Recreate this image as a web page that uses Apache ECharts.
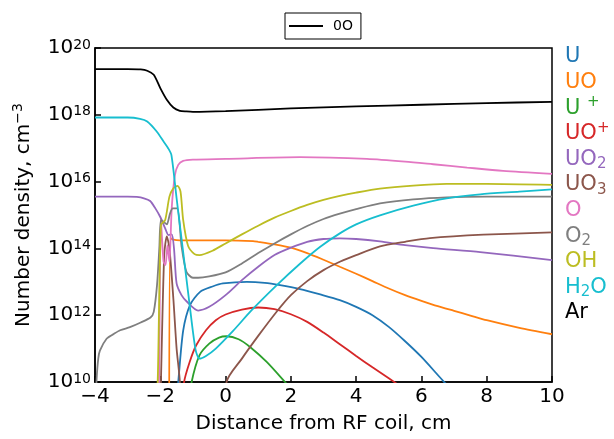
<!DOCTYPE html>
<html>
<head>
<meta charset="utf-8">
<script src="https://cdn.jsdelivr.net/npm/echarts@6/dist/echarts.min.js"></script>
<style>html,body{margin:0;padding:0;background:#fff}#c{width:614px;height:439px}</style>
</head>
<body>
<div id="c"></div>
<script>
// ---- data (x in cm, number density in cm^-3) ----
const xTicks = [-4, -2, 0, 2, 4, 6, 8, 10];
const yTickExponents = [10, 12, 14, 16, 18, 20];

const arX = [-4, -3, -2.6, -2.4, -2.2, -2.0, -1.8, -1.6, -1.4, -1.2, -1.0, 0, 2, 4, 6, 8, 10];
const arY = [2.34e19, 2.34e19, 2.29e19, 2.09e19, 1.58e19, 6.3e18, 2.82e18, 1.66e18, 1.32e18, 1.26e18, 1.23e18, 1.29e18, 1.55e18, 1.78e18, 2.0e18, 2.24e18, 2.45e18];

const h2oX = [-4, -3, -2.62, -2.4, -2.11, -1.9, -1.76, -1.66, -1.5, -1.3, -1.1, -0.92, -0.8, -0.6, -0.3, 0.23, 0.8, 1.57, 2.28, 2.9, 3.5, 4.0, 4.73, 5.75, 6.77, 7.8, 9, 10];
const h2oY = [8.3e17, 8.3e17, 7.6e17, 6.3e17, 3.16e17, 1.58e17, 1.0e17, 6.3e16, 3.16e15, 7.94e13, 2.0e12, 9.33e10, 5.01e10, 6.03e10, 1.0e11, 3.39e11, 1.41e12, 7.94e12, 3.47e13, 1.12e14, 2.82e14, 5.25e14, 9.77e14, 1.91e15, 3.16e15, 4.17e15, 5.01e15, 5.89e15];

const ohX = [-2.2, -2.08, -1.98, -1.85, -1.72, -1.6, -1.47, -1.38, -1.3, -1.15, -0.95, -0.8, -0.4, 0, 0.5, 1.0, 1.5, 2.0, 2.5, 3.0, 3.5, 4.0, 4.73, 5.75, 6.77, 8, 10];
const ohY = [1e8, 1e10, 5.01e14, 7.08e14, 3.55e15, 6.31e15, 7.41e15, 5.01e15, 7.24e14, 1.2e14, 6.76e13, 6.31e13, 8.51e13, 1.41e14, 2.63e14, 4.79e14, 8.32e14, 1.32e15, 2.0e15, 2.82e15, 3.72e15, 4.68e15, 6.17e15, 7.59e15, 8.51e15, 8.51e15, 7.94e15];

const o2X = [-4.0, -3.95, -3.9, -3.85, -3.64, -3.44, -3.23, -2.93, -2.6, -2.3, -2.2, -2.1, -2.03, -1.98, -1.88, -1.8, -1.7, -1.62, -1.48, -1.35, -1.2, -1.0, -0.84, -0.5, 0, 0.5, 1.0, 1.5, 2.0, 2.5, 3.0, 3.5, 4.0, 4.73, 5.75, 6.77, 8, 10];
const o2Y = [1e9, 1.26e10, 5.01e10, 8.71e10, 2.0e11, 2.69e11, 3.55e11, 4.37e11, 6.03e11, 8.51e11, 1.26e12, 7.94e12, 1.0e14, 7.08e14, 6.03e14, 5.25e14, 1.12e15, 1.58e15, 1.58e15, 1.2e14, 2.0e13, 1.32e13, 1.32e13, 1.45e13, 1.91e13, 3.55e13, 7.24e13, 1.41e14, 2.63e14, 4.68e14, 7.59e14, 1.1e15, 1.51e15, 2.24e15, 2.95e15, 3.39e15, 3.55e15, 3.55e15];

const oX = [-2.1, -2.04, -1.98, -1.9, -1.84, -1.78, -1.72, -1.65, -1.55, -1.45, -1.3, -1.0, 0, 2.28, 4.33, 5.5, 6.36, 7.4, 8.5, 10];
const oY = [1e8, 1e10, 7.08e14, 3.98e13, 3.16e13, 1.26e14, 3.98e13, 1.58e15, 1.58e16, 3.16e16, 4.17e16, 4.57e16, 4.79e16, 5.37e16, 4.79e16, 3.98e16, 3.31e16, 2.63e16, 2.09e16, 1.7e16];

const uo2X = [-4, -3, -2.72, -2.5, -2.31, -2.15, -2.0, -1.85, -1.75, -1.65, -1.58, -1.5, -1.35, -1.19, -0.84, -0.5, 0, 0.5, 1.0, 1.5, 2.0, 2.5, 3.0, 3.5, 4.0, 4.73, 5.5, 6.36, 7.8, 10];
const uo2Y = [3.55e15, 3.55e15, 3.47e15, 3.16e15, 2.63e15, 1.58e15, 8.71e14, 3.98e14, 2.51e14, 2.63e14, 1.0e14, 8.91e12, 3.98e12, 2.57e12, 1.38e12, 1.78e12, 3.98e12, 1.12e13, 2.82e13, 6.31e13, 1.05e14, 1.58e14, 1.91e14, 2.0e14, 1.91e14, 1.62e14, 1.26e14, 1.02e14, 7.76e13, 4.47e13];

const uoX = [-1.73, -1.69, -1.6, -1.4, 0, 0.84, 1.0, 1.5, 2.0, 2.5, 3.0, 3.5, 4.0, 4.5, 5.0, 5.5, 6.0, 6.5, 7.0, 7.5, 8.0, 9.0, 10];
const uoY = [1e8, 2.04e14, 1.82e14, 1.74e14, 1.74e14, 1.66e14, 1.58e14, 1.32e14, 1.05e14, 7.24e13, 4.57e13, 2.82e13, 1.74e13, 1.05e13, 6.31e12, 3.98e12, 2.69e12, 1.86e12, 1.35e12, 9.77e11, 7.08e11, 4.17e11, 2.69e11];

const uX = [-1.5, -1.45, -1.3, -1.09, -0.78, -0.4, -0.08, 0.65, 1.2, 1.67, 2.28, 2.9, 3.5, 4.0, 4.5, 5.0, 5.5, 6.0, 6.67, 7.0];
const uY = [3.16e9, 1e10, 3.39e11, 2.0e12, 5.01e12, 7.24e12, 8.91e12, 1.0e13, 9.33e12, 7.94e12, 6.03e12, 4.17e12, 2.82e12, 1.78e12, 1.0e12, 4.47e11, 1.66e11, 5.62e10, 1.07e10, 5.01e9];

const uopX = [-1.32, -1.27, -1.1, -0.9, -0.6, -0.3, 0, 0.5, 1.0, 1.5, 2.0, 2.5, 3.0, 3.5, 4.0, 4.5, 5.0, 5.5];
const uopY = [1e9, 1e10, 3.98e10, 1.26e11, 3.55e11, 7.08e11, 1.05e12, 1.48e12, 1.7e12, 1.51e12, 1.07e12, 6.31e11, 3.02e11, 1.35e11, 6.03e10, 2.75e10, 1.29e10, 6.03e9];

const upX = [-1.08, -1.04, -0.8, -0.5, -0.2, 0.03, 0.4, 0.75, 1.26, 1.82, 2.0];
const upY = [3.16e9, 1e10, 6.31e10, 1.41e11, 2.14e11, 2.34e11, 1.91e11, 1.12e11, 3.98e10, 1e10, 6.31e9];

const uo3X = [-2.02, -1.98, -1.88, -1.8, -1.72, -1.6, -1.5, -1.4, -1.35, -0.05, 0.03, 0.5, 1.0, 1.57, 2.0, 2.5, 3.0, 3.5, 4.0, 4.73, 5.5, 6.26, 7.9, 10];
const uo3Y = [1e8, 1e10, 6.31e13, 2.29e14, 1e14, 3.16e12, 1e11, 1e10, 1e8, 1e8, 1e10, 5.01e10, 2.4e11, 1.29e12, 3.98e12, 1.05e13, 2.24e13, 3.98e13, 6.31e13, 1.15e14, 1.58e14, 2.04e14, 2.57e14, 3.02e14];

const speciesNames = ['U', 'UO', 'U+', 'UO+', 'UO2', 'UO3', 'O', 'O2', 'OH', 'H2O', 'Ar'];
const speciesLabels = ['U', 'UO', 'U {sp|+}', 'UO{sp|+}', 'UO{sb|2}', 'UO{sb|3}', 'O', 'O{sb|2}', 'OH', 'H{sb|2}O', 'Ar'];
const legendName = '0O';

// ---- build ----
const colors = {U:'#1f77b4', UO:'#ff7f0e', 'U+':'#2ca02c', 'UO+':'#d62728', UO2:'#9467bd', UO3:'#8c564b', O:'#e377c2', O2:'#7f7f7f', OH:'#bcbd22', H2O:'#17becf', Ar:'#000000'};
const seriesData = [
  ['U', uX, uY], ['UO', uoX, uoY], ['U+', upX, upY], ['UO+', uopX, uopY],
  ['UO2', uo2X, uo2Y], ['UO3', uo3X, uo3Y], ['O', oX, oY], ['O2', o2X, o2Y],
  ['OH', ohX, ohY], ['H2O', h2oX, h2oY]
];
const FONT = 'DejaVu Sans';
const zip = (xs, ys) => xs.map((x, i) => [x, ys[i]]);
const series = seriesData.map(([n, xs, ys]) => ({
  name: n, type: 'line', data: zip(xs, ys), symbol: 'none', smooth: 0.25,
  clip: true, lineStyle: {color: colors[n], width: 1.8}, itemStyle: {color: colors[n]}, z: 2
}));
series.push({
  name: legendName, type: 'line', data: zip(arX, arY), symbol: 'none', smooth: 0.25,
  clip: true, lineStyle: {color: '#000', width: 1.8}, itemStyle: {color: '#000'}, z: 3
});

const graphics = speciesNames.map((n, i) => ({
  type: 'text', x: 565, y: 57 + i * 25.6,
  style: {
    text: speciesLabels[i], fill: colors[n], fontSize: 21, fontFamily: FONT,
    verticalAlign: 'middle',
    rich: {
      sp: {fontSize: 15, fontFamily: FONT, fill: colors[n], verticalAlign: 'top', padding: [0, 0, 12, 0]},
      sb: {fontSize: 15, fontFamily: FONT, fill: colors[n], verticalAlign: 'bottom', padding: [10, 0, 0, 0]}
    }
  }
}));

const chart = echarts.init(document.getElementById('c'), null, {renderer: 'canvas'});
chart.setOption({
  backgroundColor: '#fff',
  animation: false,
  textStyle: {fontFamily: FONT},
  grid: {left: 95, right: 62, top: 48, bottom: 50, show: true, borderColor: '#000', borderWidth: 1.5, backgroundColor: 'transparent'},
  legend: {
    data: [{name: legendName, icon: 'rect'}], left: 285, top: 13, orient: 'horizontal',
    borderColor: '#000', borderWidth: 1, borderRadius: 0, padding: [6, 8, 6, 4],
    itemWidth: 34, itemHeight: 2,
    itemStyle: {color: '#000', borderWidth: 0},
    textStyle: {fontSize: 14, color: '#000', fontFamily: FONT, padding: [0, 0, 0, 5], lineHeight: 14}
  },
  xAxis: {
    type: 'value', min: -4, max: 10, interval: 2,
    name: 'Distance from RF coil, cm', nameLocation: 'middle', nameGap: 32,
    nameTextStyle: {fontSize: 20, color: '#000', fontFamily: FONT},
    axisLine: {show: true, onZero: false, lineStyle: {color: '#000', width: 1.5}},
    axisTick: {show: true, inside: true, length: 6, lineStyle: {color: '#000', width: 1.5}},
    axisLabel: {color: '#000', fontSize: 20, margin: 5, fontFamily: FONT,
      formatter: v => xTicks.includes(v) ? (v < 0 ? '\u2212' + Math.abs(v) : String(v)) : ''},
    splitLine: {show: false}
  },
  yAxis: {
    type: 'log', logBase: 100, min: Math.pow(10, yTickExponents[0]), max: Math.pow(10, yTickExponents[yTickExponents.length - 1]),
    name: 'Number density, cm{s|\u22123}', nameLocation: 'middle', nameGap: 58, nameRotate: 90,
    nameTextStyle: {fontSize: 20, color: '#000', fontFamily: FONT,
      rich: {s: {fontSize: 14, fontFamily: FONT, color: '#000', verticalAlign: 'top', padding: [0, 0, 12, 0]}}},
    axisLine: {show: true, onZero: false, lineStyle: {color: '#000', width: 1.5}},
    axisTick: {show: true, inside: true, length: 6, lineStyle: {color: '#000', width: 1.5}},
    minorTick: {show: false},
    axisLabel: {color: '#000', margin: 4, fontFamily: FONT,
      formatter: v => '{b|10}{s|' + Math.round(Math.log10(v)) + '}',
      rich: {
        b: {fontSize: 20, fontFamily: FONT, color: '#000', verticalAlign: 'bottom', lineHeight: 20},
        s: {fontSize: 14, fontFamily: FONT, color: '#000', verticalAlign: 'top', lineHeight: 14, padding: [0, 0, 12, 0]}
      }},
    splitLine: {show: false}
  },
  graphic: graphics,
  series: series
});
</script>
</body>
</html>
